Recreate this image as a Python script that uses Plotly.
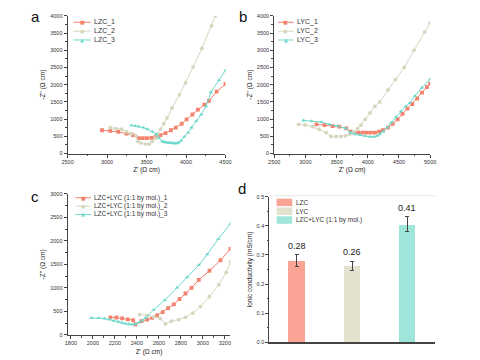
import plotly.graph_objects as go

# ---------- Panel a : LZC ----------
lzc1_x = [2936, 3040, 3142, 3245, 3327, 3402, 3451, 3504, 3562, 3615, 3677, 3739, 3809, 3871, 3945, 4007, 4081, 4151, 4233, 4290, 4388, 4500]
lzc1_y = [677, 657, 629, 580, 534, 448, 448, 448, 457, 486, 534, 591, 677, 752, 866, 991, 1134, 1277, 1420, 1531, 1800, 2020]
lzc2_x = [3040, 3114, 3183, 3245, 3307, 3368, 3389, 3430, 3484, 3534, 3574, 3607, 3636, 3677, 3719, 3760, 3822, 3916, 3994, 4089, 4201, 4324, 4370]
lzc2_y = [752, 724, 705, 629, 580, 514, 352, 305, 276, 276, 352, 438, 562, 705, 866, 1038, 1323, 1705, 2057, 2514, 3057, 3714, 4000]
lzc3_x = [3307, 3360, 3402, 3460, 3513, 3574, 3624, 3657, 3698, 3720, 3739, 3760, 3780, 3800, 3822, 3843, 3863, 3884, 3904, 3937, 3978, 4028, 4069, 4130, 4192, 4254, 4315, 4418, 4500]
lzc3_y = [819, 800, 781, 752, 705, 638, 562, 448, 352, 335, 324, 318, 314, 310, 305, 300, 295, 300, 314, 371, 486, 610, 752, 943, 1134, 1371, 1781, 2134, 2420]

# ---------- Panel b : LYC ----------
lyc1_x = [3177, 3307, 3437, 3542, 3656, 3724, 3786, 3854, 3922, 3984, 4047, 4114, 4182, 4245, 4323, 4401, 4479, 4557, 4636, 4714, 4792, 4870, 4948, 5000]
lyc1_y = [848, 829, 800, 781, 733, 638, 610, 610, 610, 610, 610, 610, 638, 676, 752, 866, 991, 1152, 1305, 1440, 1600, 1770, 1930, 2030]
lyc2_x = [2891, 2995, 3114, 3219, 3333, 3411, 3489, 3567, 3645, 3713, 3776, 3839, 3891, 3958, 4036, 4114, 4193, 4323, 4442, 4583, 4740, 4911, 5000]
lyc2_y = [848, 829, 781, 705, 610, 495, 495, 495, 514, 562, 629, 724, 829, 991, 1181, 1370, 1500, 1850, 2150, 2500, 3000, 3530, 3800]
lyc3_x = [2969, 3099, 3255, 3386, 3516, 3646, 3724, 3802, 3880, 3958, 4036, 4099, 4151, 4193, 4245, 4308, 4375, 4453, 4531, 4609, 4672, 4755, 4870, 5000]
lyc3_y = [962, 943, 914, 848, 800, 733, 610, 562, 534, 505, 486, 486, 514, 562, 638, 752, 895, 1057, 1228, 1371, 1467, 1675, 1914, 2160]

# ---------- Panel c : LZC+LYC ----------
mix1_x = [2159, 2214, 2266, 2317, 2366, 2387, 2442, 2493, 2539, 2584, 2635, 2684, 2736, 2787, 2842, 2897, 2963, 3060, 3160, 3250]
mix1_y = [374, 370, 350, 330, 312, 225, 291, 325, 360, 416, 485, 568, 651, 761, 880, 998, 1171, 1364, 1587, 1830]
mix2_x = [2426, 2493, 2553, 2614, 2660, 2714, 2781, 2842, 2908, 2978, 3060, 3145, 3212, 3251]
mix2_y = [430, 416, 381, 345, 235, 291, 325, 374, 464, 603, 811, 1067, 1331, 1552]
mix3_x = [1987, 2053, 2108, 2150, 2190, 2230, 2265, 2296, 2327, 2357, 2385, 2420, 2450, 2478, 2553, 2654, 2766, 2857, 2963, 3040, 3140, 3250]
mix3_y = [360, 360, 345, 325, 300, 280, 258, 235, 226, 221, 228, 260, 305, 360, 533, 741, 1005, 1227, 1483, 1712, 2038, 2360]

# ---------- Panel d : conductivity ----------
bar_names = ["LZC", "LYC", "LZC+LYC (1:1 by mol.)"]
bar_vals = [0.28, 0.263, 0.405]
bar_errs = [0.02, 0.016, 0.026]
bar_labels = ["0.28", "0.26", "0.41"]

RED = "#F3836F"
BEIGE = "#D6D6BE"
TEAL = "#6ED8CC"
BAR_COLS = ["#F9A495", "#E2E2CF", "#9FE5DB"]
FONT = "Arial, Liberation Sans, sans-serif"

# page has an 8px body margin: figure occupies window pixels 8..480 x 8..360
W, H, OFF = 472, 352, 8
def fx(X):
    return (X - OFF) / W
def fy(Y):
    return (OFF + H - Y) / H

fig = go.Figure()

def add_series(x, y, name, color, symbol, ax, ay):
    fig.add_trace(go.Scatter(
        x=x, y=y, name=name, mode="lines+markers", showlegend=False,
        line=dict(color=color, width=1),
        marker=dict(color=color, symbol=symbol, size=3.8),
        xaxis=ax, yaxis=ay))

add_series(lzc1_x, lzc1_y, "LZC_1", RED, "square", "x", "y")
add_series(lzc2_x, lzc2_y, "LZC_2", BEIGE, "circle", "x", "y")
add_series(lzc3_x, lzc3_y, "LZC_3", TEAL, "triangle-up", "x", "y")
add_series(lyc1_x, lyc1_y, "LYC_1", RED, "square", "x2", "y2")
add_series(lyc2_x, lyc2_y, "LYC_2", BEIGE, "circle", "x2", "y2")
add_series(lyc3_x, lyc3_y, "LYC_3", TEAL, "triangle-up", "x2", "y2")
add_series(mix1_x, mix1_y, "LZC+LYC (1:1 by mol.)_1", RED, "square", "x3", "y3")
add_series(mix2_x, mix2_y, "LZC+LYC (1:1 by mol.)_2", BEIGE, "circle", "x3", "y3")
add_series(mix3_x, mix3_y, "LZC+LYC (1:1 by mol.)_3", TEAL, "triangle-up", "x3", "y3")

for i, nm in enumerate(bar_names):
    fig.add_trace(go.Bar(
        x=[i], y=[bar_vals[i]], name=nm, width=0.3, showlegend=False,
        marker=dict(color=BAR_COLS[i], line=dict(width=0)),
        error_y=dict(type="data", array=[bar_errs[i]], color="#444", thickness=1, width=2),
        xaxis="x4", yaxis="y4"))
    fig.add_annotation(x=i, y=bar_vals[i] + bar_errs[i], xref="x4", yref="y4",
                       text=bar_labels[i], showarrow=False, yanchor="bottom", yshift=2,
                       font=dict(size=9, color="#222", family=FONT))

tickfont = dict(size=5.5, color="#333", family=FONT)
titlefont = dict(size=6.5, color="#222", family=FONT)

def axis(domain, rng, dtick, minor_dtick, title=None, anchor=None, showticklabels=True, ticks="outside"):
    d = dict(domain=domain, range=rng, dtick=dtick, showgrid=False, zeroline=False,
             showline=True, linecolor="#444", linewidth=1, ticks=ticks, ticklen=3,
             tickcolor="#444", tickwidth=0.8, tickfont=tickfont, anchor=anchor,
             showticklabels=showticklabels)
    if minor_dtick:
        d["minor"] = dict(dtick=minor_dtick, ticks="outside", ticklen=1.8, tickcolor="#444", tickwidth=0.6)
    if title:
        d["title"] = dict(text=title, font=titlefont, standoff=3)
    return d

ZX = "Z' (Ω cm)"
ZY = "-Z'' (Ω cm)"

fig.update_layout(
    width=W, height=H, margin=dict(l=0, r=0, t=0, b=0),
    paper_bgcolor="white", plot_bgcolor="white", font=dict(family=FONT),
    xaxis=axis([fx(63), fx(225)], [2500, 4500], 500, 250, ZX, "y"),
    yaxis=axis([fy(153), fy(13)], [0, 4000], 500, 250, ZY, "x"),
    xaxis2=axis([fx(275), fx(435)], [2500, 5000], 500, 250, ZX, "y2"),
    yaxis2=axis([fy(153), fy(13)], [0, 4000], 500, 250, ZY, "x2"),
    xaxis3=axis([fx(63), fx(230)], [1770, 3250], 200, 100, ZX, "y3"),
    yaxis3=axis([fy(337.5), fy(194)], [0, 3000], 500, 250, ZY, "x3"),
    xaxis4=axis([fx(270), fx(440)], [-0.5, 2.5], 1, None, None, "y4", showticklabels=False, ticks=""),
    yaxis4=axis([fy(345), fy(197)], [0, 0.5], 0.1, 0.05, "Ionic conductivity (mS/cm)", "x4"),
    showlegend=False,
    bargap=0,
)
fig.layout.yaxis4.tickformat = ".1f"
fig.layout.xaxis4.linewidth = 1.5

# faint top border of panel d
fig.add_shape(type="line", xref="paper", yref="paper", x0=fx(270), x1=fx(440), y0=fy(196), y1=fy(196),
              line=dict(color="#E6E6E6", width=1))

# ---------- manual compact legends ----------
SYM = {"square": "■", "circle": "●", "triangle-up": "▲"}
def line_legend(x0, x1, ys, names, colors, syms, size):
    for y, nm, c, s in zip(ys, names, colors, syms):
        fig.add_shape(type="line", xref="paper", yref="paper", x0=fx(x0), x1=fx(x1), y0=fy(y), y1=fy(y),
                      line=dict(color=c, width=1))
        fig.add_annotation(text=SYM[s], x=fx((x0 + x1) / 2), y=fy(y), xref="paper", yref="paper",
                           showarrow=False, xanchor="center", yanchor="middle",
                           font=dict(size=5, color=c, family="DejaVu Sans"))
        fig.add_annotation(text=nm, x=fx(x1 + 1.5), y=fy(y), xref="paper", yref="paper",
                           showarrow=False, xanchor="left", yanchor="middle",
                           font=dict(size=size, color="#333", family=FONT))

line_legend(69, 87, [19.5, 28.5, 37.5], ["LZC_1", "LZC_2", "LZC_3"], [RED, BEIGE, TEAL],
            ["square", "circle", "triangle-up"], 7)
line_legend(279, 295, [19.5, 28.5, 37.5], ["LYC_1", "LYC_2", "LYC_3"], [RED, BEIGE, TEAL],
            ["square", "circle", "triangle-up"], 7)
line_legend(71, 87, [198, 206.5, 215],
            ["LZC+LYC (1:1 by mol.)_1", "LZC+LYC (1:1 by mol.)_2", "LZC+LYC (1:1 by mol.)_3"],
            [RED, BEIGE, TEAL], ["square", "circle", "triangle-up"], 6.5)

for y, nm, c in zip([202.7, 211.7, 220.7], bar_names, BAR_COLS):
    fig.add_shape(type="rect", xref="paper", yref="paper", x0=fx(277.5), x1=fx(293.5),
                  y0=fy(y + 3.8), y1=fy(y - 3.8), fillcolor=c, line=dict(width=0))
    fig.add_annotation(text=nm, x=fx(295.5), y=fy(y), xref="paper", yref="paper",
                       showarrow=False, xanchor="left", yanchor="middle",
                       font=dict(size=6.5, color="#333", family=FONT))

for txt, X, Y in [("a", 30, 14), ("b", 243, 14), ("c", 30, 197), ("d", 242, 189)]:
    fig.add_annotation(text=txt, x=fx(X), y=fy(Y), xref="paper", yref="paper", showarrow=False,
                       xanchor="center", yanchor="middle", font=dict(size=15, color="#111", family=FONT))

fig.write_html("out.html")
